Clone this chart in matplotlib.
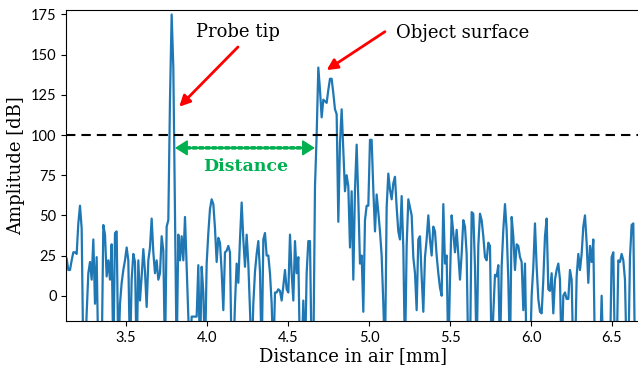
import numpy as np
import matplotlib.pyplot as plt

# Signal amplitude [dB] sampled along the distance axis (values below the
# axis floor are drawn as -40 so the line drops out of the view)
amp_seg1 = [23, 16, 16, 22, 27, 27, 26, 45, 56, 42, -40, -40, -11, 14, 21, 10, 35, -5, 24, -40, -40, -40,
            44, 38, 12, 22, 10, 32, -40, 39, 40, -40, -5, 8, 16, 22, 30, 22, -40, 10, 26, 21, -40]
amp_seg2 = [22, -3, 12, 29, 15, -7, 22, 30, 48, 27, 14, 22, 10, 14, 37, 28, -40, 43, 47, 122, 175, 142,
            50, -40, 38, 22, 37, 22, 49, 18, -13, -40, -13, -13, -13, -13, 19, -40, 18, 2, -40, 20, 39]
amp_seg3 = [54, 60, 57, 42, 21, 36, 33, 15, -9, 27, 28, 31, 27, -40, -40, -5, 20, 8, 35, 58, 35, 18,
            38, 20, -9, -40, -5, 15, 26, 34, 15, -40, 35, 39, 25, 25, 14, -5, -40, 2, 2, 4, 3]
amp_seg4 = [-3, 6, 16, 4, 2, 38, 14, -3, 34, 14, 24, -40, -40, -3, -40, 14, 34, 34, -40, -40, 68, 100,
            142, 128, 111, 122, 121, 120, 128, 135, 135, 126, 116, 113, 46, 95, 116, 91, 65, 75, 68, 30, 65]
amp_seg5 = [10, 66, 94, 60, 20, 25, -10, 47, 56, 56, 97, 97, 66, 40, 63, 52, 40, 25, -5, -40, 55, 76,
            66, 60, 70, 74, 55, 40, 35, 62, 30, -40, 31, 60, 55, 50, 24, 14, -9, 35, 37, 12, -10]
amp_seg6 = [24, 35, 50, 35, 25, 43, 40, 25, 14, 5, 0, 57, 20, 25, -40, 10, 50, 39, 27, 41, 26, 10,
            26, 47, 43, 26, -40, -40, 52, 51, 18, -40, 31, 51, 47, 37, 24, 22, 33, 31, -40, -11, 13]
amp_seg7 = [12, 19, -40, 18, 41, 57, 41, 10, -40, 49, 37, 16, 32, 31, 24, 21, -9, 20, -40, -40, -40, 0,
            18, 45, 18, -2, -10, -11, 10, 37, 48, 4, 3, 14, -11, 10, 16, 20, 10, -40, 0, 2, -2]
amp_seg8 = [-2, 16, 10, -40, -40, 12, 26, 16, 26, 43, 50, 33, 8, 31, 21, 35, -40, -40, -40, -40, 0,
            -40, -40, -40, -40, -40, 24, 27, -40, -40, 22, 21, 26, 22, 10, -40, -40, 24, 44, 45, -40, -40]

dist_start, dist_end = 3.1333, 6.6518   # mm, first and last sample
threshold_db = 100
probe_peak = (3.828, 117.6)
surface_peak = (4.738, 140.4)
gap_left, gap_right, gap_level = 3.802, 4.666, 92

amp = np.array(amp_seg1 + amp_seg2 + amp_seg3 + amp_seg4 +
               amp_seg5 + amp_seg6 + amp_seg7 + amp_seg8, dtype=float)
dist = np.linspace(dist_start, dist_end, len(amp))

serif = 'DejaVu Serif'

fig = plt.figure(figsize=(6.38, 3.73), dpi=100)
ax = fig.add_axes([0.1039, 0.1394, 0.8991, 0.8351])

ax.plot(dist, amp, color='#1f77b4', lw=1.6)
ax.axhline(threshold_db, color='black', lw=1.5, ls=(0, (4.5, 2.9)))

# red pointers
ax.annotate('', xy=probe_peak, xytext=(4.191, 154.8),
            arrowprops=dict(arrowstyle='-|>', color='red', lw=2, mutation_scale=16,
                            shrinkA=0, shrinkB=0))
ax.annotate('', xy=surface_peak, xytext=(5.098, 164.3),
            arrowprops=dict(arrowstyle='-|>', color='red', lw=2, mutation_scale=16,
                            shrinkA=0, shrinkB=0))
ax.text(4.192, 164, 'Probe tip', family=serif, fontsize=13, ha='center', va='center')
ax.text(5.58, 163.5, 'Object surface', family=serif, fontsize=13, ha='center', va='center')

# green distance arrow: dotted shaft plus two solid heads
green = '#00b050'
ax.annotate('', xy=(gap_left + 0.05, gap_level), xytext=(gap_right - 0.05, gap_level),
            arrowprops=dict(arrowstyle='-', color=green, lw=2.6, ls=(0, (0.9, 0.9)),
                            shrinkA=0, shrinkB=0))
for tip, tail in [(gap_left, gap_left + 0.07), (gap_right, gap_right - 0.07)]:
    ax.annotate('', xy=(tip, gap_level), xytext=(tail, gap_level),
                arrowprops=dict(arrowstyle='-|>, head_length=0.38, head_width=0.24',
                                color=green, lw=1.2, mutation_scale=20,
                                shrinkA=0, shrinkB=0))
ax.text(4.24, 80.7, 'Distance', family=serif, fontsize=12.5, fontweight='bold',
        color=green, ha='center', va='center')

ax.set_xlim(3.131, 6.672)
ax.set_ylim(-15.74, 178.1)
ax.set_yticks(np.arange(0, 176, 25))
ax.set_xticks(np.arange(3.5, 6.6, 0.5))
ax.set_xlabel('Distance in air [mm]', family=serif, fontsize=13, labelpad=2)
ax.set_ylabel('Amplitude [dB]', family=serif, fontsize=13, labelpad=4)
for lab in ax.get_xticklabels() + ax.get_yticklabels():
    lab.set_family('Lato')
    lab.set_fontsize(10.5)
ax.spines['right'].set_visible(False)

fig.savefig('out.png', dpi=100)
